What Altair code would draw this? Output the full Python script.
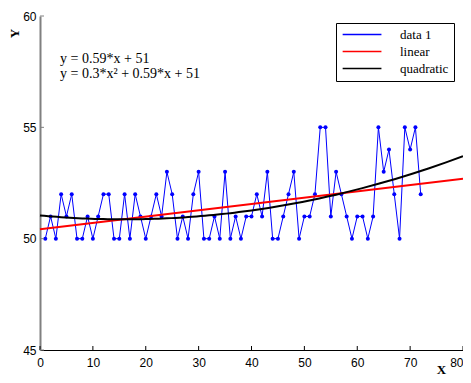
import altair as alt
import pandas as pd

# ---- data ----
x_vals = list(range(1, 73))
y_vals = [50, 51, 50, 52, 51, 52, 50, 50, 51, 50,
          51, 52, 52, 50, 50, 52, 50, 52, 51, 50,
          51, 52, 51, 53, 52, 50, 51, 50, 52, 53,
          50, 50, 51, 50, 53, 50, 51, 50, 51, 51,
          52, 51, 53, 50, 50, 51, 52, 53, 50, 51,
          51, 52, 55, 55, 51, 53, 52, 51, 50, 51,
          51, 50, 51, 55, 53, 54, 52, 50, 55, 54,
          55, 52]

series_names = ["data 1", "linear", "quadratic"]
series_colors = ["#0000ff", "#ff0000", "#000000"]

x_ticks = [0, 10, 20, 30, 40, 50, 60, 70, 80]
y_ticks = [45, 50, 55, 60]

eq_text = ["y = 0.59*x + 51", "y = 0.3*x\u00b2 + 0.59*x + 51"]
eq_x = [3.8, 3.8]
eq_y = [57.9, 57.23]

W, H = 423, 334

df = pd.DataFrame({"x": x_vals, "y": y_vals})
df["series"] = "data 1"
eq_df = pd.DataFrame({"x": eq_x, "y": eq_y, "label": eq_text})

xscale = alt.Scale(domain=[0, 80], nice=False, zero=False)
yscale = alt.Scale(domain=[45, 60], nice=False, zero=False)

x_axis = alt.Axis(values=x_ticks, title="X", titleFont="Liberation Serif",
                  titleFontWeight="bold", titleFontSize=13, titleColor="black",
                  titleX=401, titleY=23, titleAlign="center", titleBaseline="alphabetic",
                  ticks=False, grid=False, labelFont="Liberation Sans",
                  labelFontSize=12, labelColor="black", labelPadding=7,
                  labelAlign=alt.ExprRef("datum.value >= 80 ? 'right' : 'center'"),
                  labelFlush=False, domainColor="black", domainWidth=1)
y_axis = alt.Axis(values=y_ticks, title="Y", titleFont="Liberation Serif",
                  titleFontWeight="bold", titleFontSize=13, titleColor="black",
                  titleX=-26, titleY=17, titleAngle=270, titleAlign="center",
                  titleBaseline="middle", ticks=False, grid=False,
                  labelFont="Liberation Sans", labelFontSize=12, labelColor="black",
                  labelPadding=4, labelFlush=False, domainColor="#808080",
                  domainWidth=2)

color = alt.Color(
    "series:N",
    scale=alt.Scale(domain=series_names, range=series_colors),
    legend=alt.Legend(title=None, orient="none", legendX=296, legendY=7,
                      symbolType="M-1,0H7", symbolSize=94, symbolStrokeWidth=1.5,
                      labelOffset=46, padding=5, rowPadding=3,
                      strokeColor="black", fillColor="white",
                      labelFont="Liberation Serif", labelFontSize=13,
                      labelColor="black"),
)

X = alt.X("x:Q", scale=xscale, axis=x_axis)
Y = alt.Y("y:Q", scale=yscale, axis=y_axis)

base = alt.Chart(df)

data_line = base.mark_line(strokeWidth=1).encode(x=X, y=Y, color=color)
data_pts = base.mark_circle(size=16, opacity=1, color="#0000ff").encode(x=X, y=Y)

lin = (base.transform_regression("x", "y", method="linear", extent=[0, 80])
       .transform_calculate(series="'linear'")
       .mark_line(strokeWidth=2)
       .encode(x=X, y=Y, color=color))
quad = (base.transform_regression("x", "y", method="poly", order=2, extent=[0, 80])
        .transform_calculate(series="'quadratic'")
        .mark_line(strokeWidth=2)
        .encode(x=X, y=Y, color=color))

eqs = alt.Chart(eq_df).mark_text(align="left", baseline="alphabetic",
                                 font="Liberation Serif", fontSize=14,
                                 color="black").encode(x=X, y=Y, text="label:N")

xt = alt.Chart(pd.DataFrame({"x": x_ticks})).mark_rule(color="black", strokeWidth=1).encode(
    x=X, y=alt.value(H), y2=alt.value(H - 4))
yt = alt.Chart(pd.DataFrame({"y": y_ticks})).mark_rule(color="#808080", strokeWidth=1).encode(
    y=Y, x=alt.value(0), x2=alt.value(4))

chart = alt.layer(data_line, data_pts, lin, quad, eqs, xt, yt).properties(
    width=W, height=H,
    padding={"left": 32, "top": 8, "right": 0, "bottom": 25},
    autosize=alt.AutoSizeParams(type="none"),
    background="white",
).configure_view(stroke=None)

chart.save("out.html", embed_options={"renderer": "svg", "actions": False})
